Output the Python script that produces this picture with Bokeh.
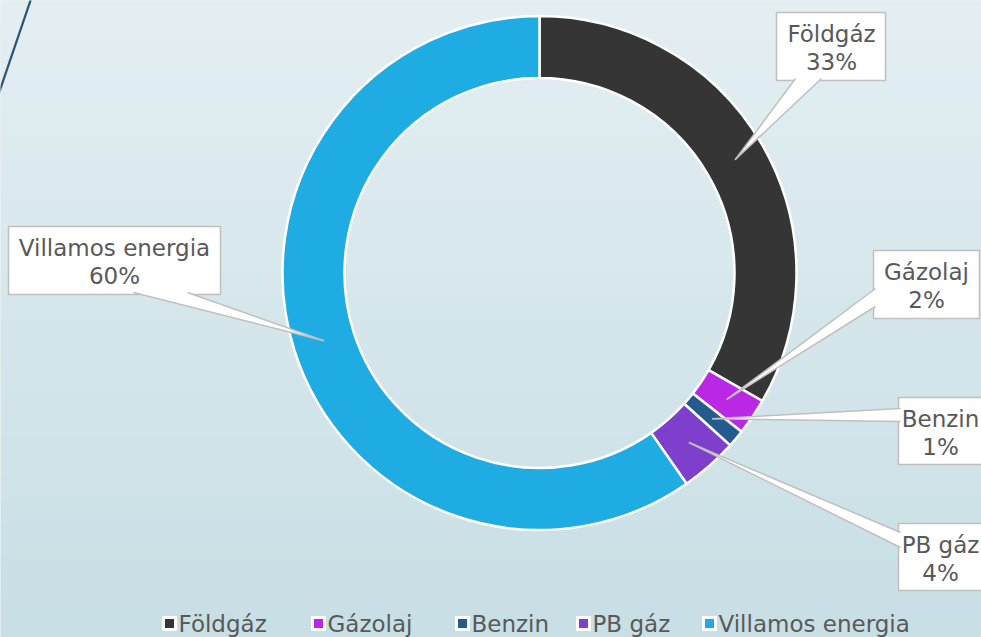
import math
import numpy as np
from bokeh.plotting import figure
from bokeh.models import ColumnDataSource
from bokeh.core.properties import value
from bokeh.embed import file_html
from bokeh.resources import INLINE

# ---------------- data ----------------
categories = ["Földgáz", "Gázolaj", "Benzin", "PB gáz", "Villamos energia"]
shares = [33.3, 2.3, 1.1, 3.6, 59.7]
colors = ["#353535", "#BA28E6", "#255A8E", "#7E3FCC", "#1EACE2"]

# ---------------- layout (reference pixel coords) ----------------
W, H = 981, 637
def X(rx):
    return rx
def Y(ry):
    return H - ry

CX, CY = 539, 272.5
R_OUT, R_IN = 257, 195

# label boxes: left, top, right, bottom, text-center-x, tail base (two points)
boxes = [
    (776, 12, 885, 80, 831, ((795, 78), (821, 78))),
    (873, 250, 979, 318, 926, ((875, 288), (875, 306))),
    (898, 397, 1000, 464, 940, ((900, 408), (900, 421))),
    (898, 523, 1000, 590, 940, ((900, 532), (900, 547))),
    (8, 226, 220, 294, 114, ((133, 292), (187, 292))),
]
legend_marker_x = [169, 318, 462, 583, 709]
legend_text_x = [178, 327, 471, 592, 718]
legend_y = 623

FONT = "DejaVu Sans"
FS = "23px"
TXT = "#595959"

p = figure(width=W, height=H, x_range=(0, W), y_range=(0, H),
           output_backend="svg", toolbar_location=None,
           x_axis_location=None, y_axis_location=None, min_border=0)
p.grid.visible = False
p.outline_line_color = None
p.background_fill_color = "#D6E7EC"
p.border_fill_color = "#D6E7EC"

# background gradient
top = np.array([0xE4, 0xEF, 0xF3], dtype=float)
bot = np.array([0xC8, 0xDF, 0xE5], dtype=float)
img = np.zeros((H, 1, 4), dtype=np.uint8)
for r in range(H):
    t = r / (H - 1)  # row 0 bottom
    c = bot * (1 - t) + top * t
    img[r, 0, :3] = c.astype(np.uint8)
    img[r, 0, 3] = 255
p.image_rgba(image=[img.view(np.uint32).reshape(H, 1)], x=0, y=0, dw=W, dh=H)

# decorative diagonal line
p.line(x=[X(30 + 30 * 10 / 88.0), X(30 - 30 * 120 / 88.0)], y=[Y(-10), Y(120)],
       line_color="#2B5672", line_width=2.2)

# donut
total = sum(shares)
cum = np.cumsum([0] + shares) / total
starts = [math.pi / 2 - 2 * math.pi * c for c in cum[:-1]]
ends = [math.pi / 2 - 2 * math.pi * c for c in cum[1:]]
src = ColumnDataSource(dict(cat=categories, start=starts, end=ends, color=colors))
p.annular_wedge(x=X(CX), y=Y(CY), inner_radius=R_IN, outer_radius=R_OUT,
                start_angle="start", end_angle="end", direction="clock",
                fill_color="color", line_color="white", line_width=2.5, source=src)

# callout labels
R_MID = (R_IN + R_OUT) / 2
for i, (cat, v) in enumerate(zip(categories, shares)):
    l, t, r, b, tx, base = boxes[i]
    mid = (cum[i] + cum[i + 1]) / 2 * 2 * math.pi
    px = CX + R_MID * math.sin(mid)
    py = CY - R_MID * math.cos(mid)
    p.quad(left=X(l), right=X(r), top=Y(t), bottom=Y(b),
           fill_color="white", line_color="#BFBFBF", line_width=1.5)
    (b1x, b1y), (b2x, b2y) = base
    p.patch(x=[X(b1x), X(px), X(b2x)], y=[Y(b1y), Y(py), Y(b2y)],
            fill_color="white", line_color=None)
    p.multi_line(xs=[[X(b1x), X(px)], [X(b2x), X(px)]],
                 ys=[[Y(b1y), Y(py)], [Y(b2y), Y(py)]],
                 line_color="#BFBFBF", line_width=1.5)
    p.text(x=[X(tx)] * 2, y=[Y(t + 21), Y(t + 49)],
           text=[cat, f"{round(v / total * 100)}%"],
           text_font=value(FONT), text_font_size=FS, text_color=TXT,
           text_align="center", text_baseline="middle")

# legend
p.scatter(x=[X(v) for v in legend_marker_x], y=[Y(legend_y)] * len(categories),
          marker="square", size=15, fill_color="white", line_color=None)
p.scatter(x=[X(v) for v in legend_marker_x], y=[Y(legend_y)] * len(categories),
          marker="square", size=9, fill_color=colors, line_color=None)
p.text(x=[X(v) for v in legend_text_x], y=[Y(legend_y)] * len(categories),
       text=categories, text_font=value(FONT), text_font_size=FS, text_color=TXT,
       text_align="left", text_baseline="middle")

open("out.html", "w").write(file_html(p, INLINE))
